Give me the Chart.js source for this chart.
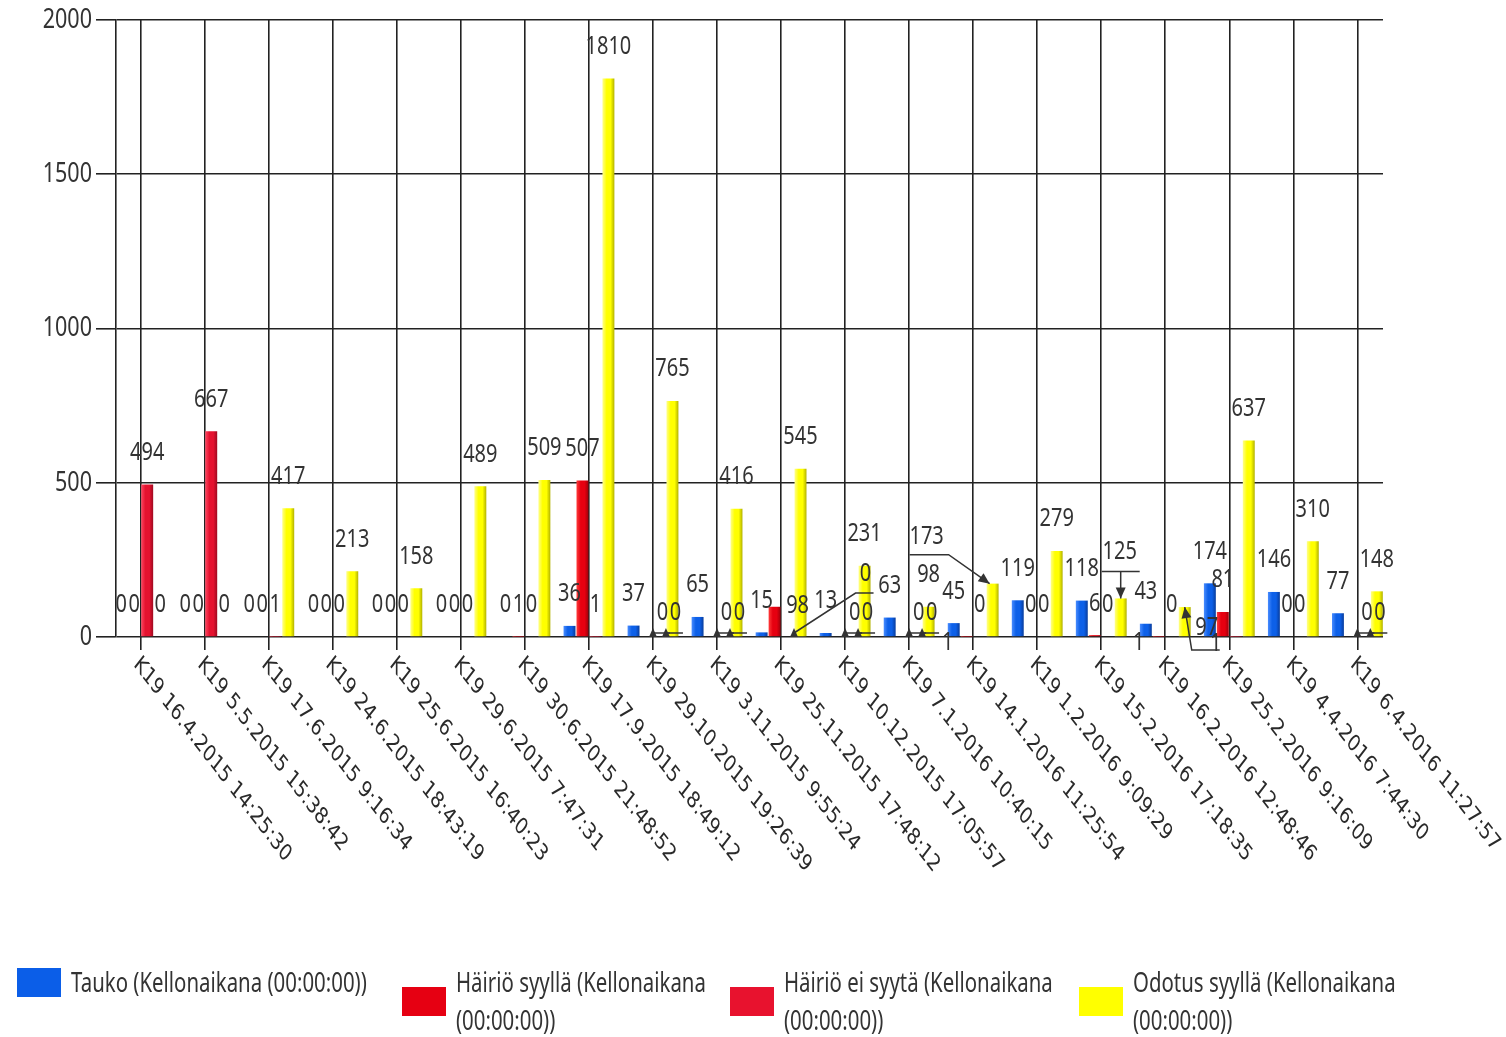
<!DOCTYPE html>
<html lang="fi">
<head>
<meta charset="utf-8">
<title>Tauot, häiriöt ja odotukset – K19</title>
<script src="https://cdn.jsdelivr.net/npm/chart.js@4.4.1/dist/chart.umd.min.js"></script>
<style>
  html, body { margin: 0; padding: 0; background: #fff; overflow: hidden; }
  #wrap { position: relative; width: 1506px; height: 1037px; }
  #chart { position: absolute; left: 0; top: 0; }
  #legend { position: absolute; left: 0; top: 963px; width: 1506px; height: 74px; }
  .item { position: absolute; top: 0; display: flex; align-items: center; }
  .swatch { width: 44px; height: 29px; margin-right: 10px; flex: none; }
  .text {
    font-family: 'Noto Sans', sans-serif; font-size: 26.5px; line-height: 38px; color: #333;
    max-width: 400px; transform: scaleX(0.77); transform-origin: 0 50%;
  }
</style>
</head>
<body>
<div id="wrap">
  <canvas id="chart" width="1506" height="1037"></canvas>
  <div id="legend"></div>
</div>
<script>
// Categories (shift, date and time)
const categories = [
  'K19 16.4.2015 14:25:30', 'K19 5.5.2015 15:38:42', 'K19 17.6.2015 9:16:34',
  'K19 24.6.2015 18:43:19', 'K19 25.6.2015 16:40:23', 'K19 29.6.2015 7:47:31',
  'K19 30.6.2015 21:48:52', 'K19 17.9.2015 18:49:12', 'K19 29.10.2015 19:26:39',
  'K19 3.11.2015 9:55:24', 'K19 25.11.2015 17:48:12', 'K19 10.12.2015 17:05:57',
  'K19 7.1.2016 10:40:15', 'K19 14.1.2016 11:25:54', 'K19 1.2.2016 9:09:29',
  'K19 15.2.2016 17:18:35', 'K19 16.2.2016 12:48:46', 'K19 25.2.2016 9:16:09',
  'K19 4.4.2016 7:44:30', 'K19 6.4.2016 11:27:57'
];

// Series names
const seriesNames = [
  'Tauko (Kellonaikana (00:00:00))',
  'Häiriö syyllä (Kellonaikana (00:00:00))',
  'Häiriö ei syytä (Kellonaikana (00:00:00))',
  'Odotus syyllä (Kellonaikana (00:00:00))'
];

// Series values
const tauko         = [0, 0, 0, 0, 0, 0, 0, 36, 37, 65, 15, 13, 63, 45, 119, 118, 43, 174, 146, 77];
const hairioSyylla  = [0, 0, 0, 0, 0, 0, 1, 507, 0, 0, 98, 0, 0, 1, 0, 6, 1, 81, 0, 0];
const hairioEiSyyta = [494, 667, 1, 0, 0, 0, 0, 1, 0, 0, 0, 0, 0, 0, 0, 0, 0, 1, 0, 0];
const odotusSyylla  = [0, 0, 417, 213, 158, 489, 509, 1810, 765, 416, 545, 231, 98, 173, 279, 125, 97, 637, 310, 148];

// Value axis ticks
const yTicks = [0, 500, 1000, 1500, 2000];

// Swatch colours and bar shading (light edge, face, shaded edge)
const swatchColors = ['#0b5ee8', '#e60012', '#e8122e', '#ffff00'];
const shading = [
  ['#4a8dff', '#0d60e8', '#083c9c'],
  ['#ff3b3b', '#e60010', '#a0000b'],
  ['#ff4560', '#e5122f', '#9e0a20'],
  ['#ffff8a', '#ffff00', '#b2b200']
];

const CAT_PCT = 0.81;
const BAR_PCT = 0.92;

// Narrow lettering: regular face compressed horizontally
const TEXT_FONT = "'Noto Sans', sans-serif";
const SQUEEZE = 0.77;

// Value labels that were pushed aside, with their leader style
// [category, series, dx, dy, leader]
const labelNudges = [
  [8, 1, 16, 8, 'tick'],  [8, 2, 16, 8, 'tick'],
  [9, 1, 16, 8, 'tick'],  [9, 2, 16, 8, 'tick'],
  [10, 1, 23, 31, null],
  [10, 2, 78, -31, 'elbow'],
  [11, 1, 16, 8, 'tick'], [11, 2, 16, 8, 'tick'],
  [12, 1, 16, 8, 'tick'], [12, 2, 16, 8, 'tick'],
  [13, 1, -19, 38, null],
  [13, 3, -66, -15, 'hook'],
  [15, 3, -1, -15, 'drop'],
  [16, 1, -20, 38, null],
  [16, 3, 22, 53, 'under'],
  [17, 2, -20, 39, null],
  [19, 1, 16, 8, 'tick'], [19, 2, 16, 8, 'tick']
];

function shadedFill(si) {
  const [light, mid, dark] = shading[si];
  return (c) => {
    const chart = c.chart, xs = chart.scales.x;
    if (!chart.chartArea || !xs || c.dataIndex === undefined) return mid;
    const step = xs.getPixelForValue(1) - xs.getPixelForValue(0);
    const slot = step * CAT_PCT / 4;
    const cx = xs.getPixelForValue(c.dataIndex) + (c.datasetIndex - 1.5) * slot;
    const half = slot * BAR_PCT / 2;
    const g = chart.ctx.createLinearGradient(cx - half, 0, cx + half, 0);
    g.addColorStop(0, light);
    g.addColorStop(0.35, mid);
    g.addColorStop(0.68, mid);
    g.addColorStop(1, dark);
    return g;
  };
}

const seriesValues = [tauko, hairioSyylla, hairioEiSyyta, odotusSyylla];

const datasets = seriesValues.map((vals, si) => ({
  label: seriesNames[si],
  data: vals.map((v, i) => ({ x: i, y: v })),
  backgroundColor: shadedFill(si),
  borderWidth: 0,
  categoryPercentage: CAT_PCT,
  barPercentage: BAR_PCT
}));

function narrowText(ctx, text, x, y, align) {
  ctx.save();
  ctx.translate(x, y);
  ctx.scale(SQUEEZE, 1);
  ctx.textAlign = align;
  ctx.fillText(text, 0, 0);
  ctx.restore();
}

function arrowHead(ctx, fx, fy, tx, ty, len, wid) {
  const a = Math.atan2(ty - fy, tx - fx);
  ctx.beginPath();
  ctx.moveTo(tx, ty);
  ctx.lineTo(tx - len * Math.cos(a) + wid * Math.sin(a), ty - len * Math.sin(a) - wid * Math.cos(a));
  ctx.lineTo(tx - len * Math.cos(a) - wid * Math.sin(a), ty - len * Math.sin(a) + wid * Math.cos(a));
  ctx.closePath();
  ctx.fill();
}

// Value axis numbers
const valueAxisLabels = {
  id: 'valueAxisLabels',
  afterDraw(chart) {
    const ctx = chart.ctx, ys = chart.scales.y;
    ctx.save();
    ctx.font = '28px ' + TEXT_FONT;
    ctx.fillStyle = '#333';
    ctx.textBaseline = 'middle';
    yTicks.forEach(v => narrowText(ctx, String(v), ys.right - 24, ys.getPixelForValue(v), 'right'));
    ctx.restore();
  }
};

// Value labels above each bar
const valueLabels = {
  id: 'valueLabels',
  afterDatasetsDraw(chart) {
    const ctx = chart.ctx;
    const base = chart.scales.y.getPixelForValue(0);
    const nudge = {};
    labelNudges.forEach(n => { nudge[n[0] + ':' + n[1]] = n; });
    ctx.save();
    ctx.font = '26px ' + TEXT_FONT;
    ctx.textBaseline = 'middle';
    ctx.fillStyle = '#333';
    ctx.strokeStyle = '#333';
    ctx.lineWidth = 1.5;
    chart.data.datasets.forEach((ds, si) => {
      const meta = chart.getDatasetMeta(si);
      meta.data.forEach((el, i) => {
        const v = seriesValues[si][i];
        let lx = el.x, ly = el.y - 32;
        const n = nudge[i + ':' + si];
        const edge = el.x + el.width / 2 + 0.5;
        if (n) {
          lx += n[2]; ly += n[3];
          const kind = n[4];
          if (kind === 'tick') {
            arrowHead(ctx, edge, base + 10, edge, base - 9, 9, 4);
            ctx.beginPath(); ctx.moveTo(edge, base - 4); ctx.lineTo(edge + 17, base - 4); ctx.stroke();
          } else if (kind === 'elbow') {
            arrowHead(ctx, edge, base + 10, edge, base - 9, 9, 4);
            ctx.beginPath(); ctx.moveTo(edge, base - 4); ctx.lineTo(lx - 10, ly + 19); ctx.lineTo(lx + 8, ly + 19); ctx.stroke();
          } else if (kind === 'hook') {
            ctx.beginPath(); ctx.moveTo(lx - 17, ly + 18); ctx.lineTo(lx + 22, ly + 18); ctx.lineTo(el.x - 3, el.y); ctx.stroke();
            arrowHead(ctx, lx + 22, ly + 18, el.x - 3, el.y, 11, 5);
          } else if (kind === 'drop') {
            ctx.beginPath(); ctx.moveTo(lx - 18, ly + 20); ctx.lineTo(lx + 20, ly + 20);
            ctx.moveTo(el.x, ly + 20); ctx.lineTo(el.x, el.y); ctx.stroke();
            arrowHead(ctx, el.x, ly + 20, el.x, el.y, 11, 5);
          } else if (kind === 'under') {
            ctx.beginPath(); ctx.moveTo(el.x, el.y); ctx.lineTo(el.x + 7, base + 13); ctx.lineTo(el.x + 35, base + 13); ctx.stroke();
            arrowHead(ctx, el.x + 7, base + 13, el.x, el.y, 11, 5);
          }
        }
        narrowText(ctx, String(v), lx, ly, 'center');
      });
    });
    ctx.restore();
  }
};

// Slanted category labels under the axis
const slantedLabels = {
  id: 'slantedLabels',
  afterDraw(chart) {
    const ctx = chart.ctx, xs = chart.scales.x;
    const top = chart.chartArea.bottom + 24;
    ctx.save();
    ctx.fillStyle = '#2a2a2a';
    ctx.font = '23px "DejaVu Sans", sans-serif';
    ctx.textAlign = 'left';
    ctx.textBaseline = 'middle';
    categories.forEach((c, i) => {
      ctx.save();
      ctx.translate(xs.getPixelForValue(i) - 4.5, top);
      ctx.scale(SQUEEZE, 1);
      ctx.rotate(Math.PI / 4);
      ctx.fillText(c, 0, 0);
      ctx.restore();
    });
    ctx.restore();
  }
};

const chart = new Chart(document.getElementById('chart'), {
  type: 'bar',
  data: { datasets },
  options: {
    responsive: false,
    animation: false,
    events: [],
    layout: { padding: { top: 20, left: 0, right: 123, bottom: 0 } },
    plugins: { legend: { display: false }, tooltip: { enabled: false } },
    scales: {
      x: {
        type: 'linear',
        min: -0.386,
        max: 19.4,
        offset: false,
        ticks: { display: false, stepSize: 1, includeBounds: false },
        grid: { offset: false, color: '#222', lineWidth: 1.6, tickLength: 13 },
        border: { display: false },
        afterFit(s) { s.height = 1037 - 637; s.paddingLeft = 0; s.paddingRight = 0; }
      },
      y: {
        min: 0,
        max: 2000,
        afterBuildTicks(s) { s.ticks = yTicks.map(v => ({ value: v })); },
        ticks: { display: false },
        grid: { color: '#222', lineWidth: 1.6, tickLength: 20 },
        border: { display: true, color: '#222', width: 1.6 },
        afterFit(s) { s.width = 116; s.paddingTop = 0; s.paddingBottom = 0; }
      }
    }
  },
  plugins: [valueAxisLabels, valueLabels, slantedLabels]
});

// Legend built from the chart's datasets
const legendLeft = [17, 402, 730, 1079];
const legendEl = document.getElementById('legend');
chart.data.datasets.forEach((ds, i) => {
  const item = document.createElement('div');
  item.className = 'item';
  item.style.left = legendLeft[i] + 'px';
  const sw = document.createElement('div');
  sw.className = 'swatch';
  sw.style.background = swatchColors[i];
  const tx = document.createElement('div');
  tx.className = 'text';
  tx.textContent = ds.label;
  item.appendChild(sw);
  item.appendChild(tx);
  legendEl.appendChild(item);
});
</script>
</body>
</html>
